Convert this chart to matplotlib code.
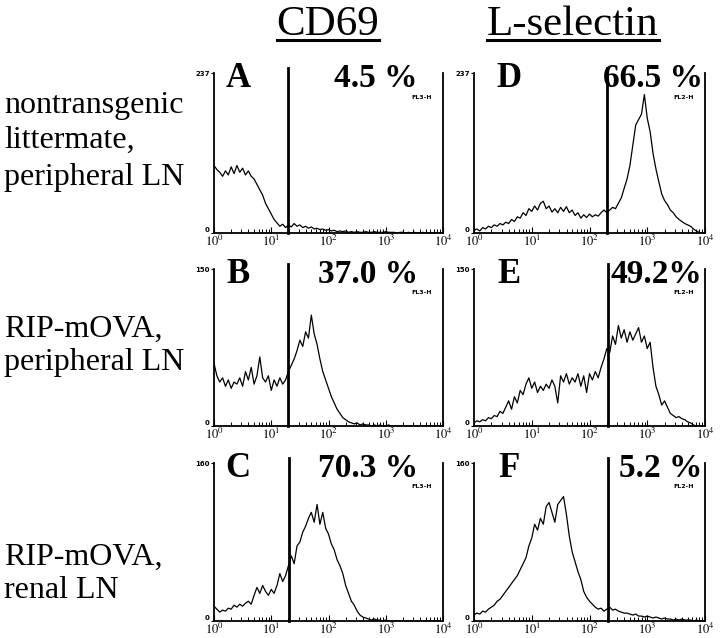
import numpy as np
import matplotlib
matplotlib.use('Agg')
import matplotlib.pyplot as plt
from matplotlib.lines import Line2D

plt.rcParams['font.family'] = ['Liberation Serif', 'DejaVu Serif']
plt.rcParams['mathtext.fontset'] = 'stix'

# fluorescence channels, 20 per decade from 10^0 to 10^4
channels = np.logspace(0, 4, 81)

counts_A = [100, 94, 90, 84, 92, 86, 98, 88, 100, 90,
            96, 86, 92, 84, 80, 72, 64, 56, 44, 36,
            28, 20, 15, 10, 13, 8, 12, 9, 14, 10,
            12, 8, 10, 7, 9, 6, 7, 5, 6, 4,
            5, 3, 4, 2, 3, 2, 3, 1, 2, 1,
            2, 1, 1, 2, 1, 1, 2, 1, 1, 1,
            2, 1, 1, 1, 0, 1, 1, 0, 1, 0,
            1, 0, 0, 1, 0, 0, 0, 0, 0, 0,
            0]
counts_B = [60, 48, 42, 46, 38, 44, 36, 42, 40, 46,
            38, 52, 44, 56, 40, 48, 66, 46, 42, 48,
            34, 44, 38, 46, 40, 44, 52, 58, 64, 72,
            82, 76, 90, 84, 106, 88, 78, 64, 52, 44,
            36, 28, 22, 16, 12, 8, 6, 4, 3, 2,
            3, 1, 2, 1, 1, 0, 1, 0, 1, 0,
            0, 1, 0, 0, 0, 0, 0, 0, 0, 0,
            0, 0, 0, 0, 0, 0, 0, 0, 0, 0,
            0]
counts_C = [15, 12, 9, 11, 10, 13, 12, 16, 14, 17,
            15, 18, 20, 17, 26, 34, 28, 36, 30, 26,
            32, 28, 36, 48, 40, 46, 56, 66, 58, 76,
            80, 90, 96, 104, 110, 100, 118, 98, 110, 94,
            88, 78, 72, 62, 56, 48, 36, 28, 20, 16,
            10, 6, 4, 3, 2, 1, 2, 1, 1, 0,
            1, 0, 0, 0, 0, 0, 0, 0, 0, 0,
            0, 0, 0, 0, 0, 0, 0, 0, 0, 0,
            0]
counts_D = [4, 6, 3, 8, 6, 10, 8, 12, 10, 14,
            12, 16, 14, 20, 17, 24, 22, 30, 26, 36,
            32, 40, 34, 44, 47, 36, 40, 31, 36, 30,
            38, 32, 39, 30, 34, 26, 30, 22, 27, 23,
            28, 24, 27, 25, 30, 34, 30, 34, 38, 36,
            44, 52, 66, 80, 100, 130, 160, 168, 176, 205,
            170, 150, 118, 95, 76, 58, 48, 42, 34, 30,
            24, 20, 17, 14, 12, 10, 6, 3, 1, 0,
            0]
counts_E = [3, 5, 4, 6, 5, 8, 7, 10, 9, 14,
            12, 18, 24, 16, 28, 22, 34, 30, 40, 46,
            36, 42, 32, 38, 34, 40, 36, 44, 38, 22,
            48, 42, 50, 40, 46, 42, 50, 38, 48, 32,
            50, 44, 52, 46, 56, 64, 74, 70, 86, 78,
            96, 84, 92, 80, 90, 82, 88, 94, 80, 86,
            74, 80, 56, 38, 30, 20, 24, 18, 12, 10,
            8, 9, 7, 6, 4, 3, 1, 0, 0, 0,
            0]
counts_F = [6, 8, 7, 10, 9, 12, 14, 16, 20, 22,
            26, 30, 34, 38, 42, 46, 52, 58, 64, 76,
            84, 98, 92, 104, 98, 116, 120, 110, 100, 118,
            122, 126, 108, 86, 70, 60, 50, 42, 30, 24,
            20, 17, 14, 12, 13, 10, 12, 14, 11, 12,
            10, 9, 8, 8, 7, 6, 7, 5, 5, 4,
            5, 4, 3, 4, 3, 2, 3, 2, 2, 1,
            2, 1, 2, 1, 1, 1, 0, 1, 0, 0,
            0]

panel_letters = ['A', 'B', 'C', 'D', 'E', 'F']
percents = ['4.5 %', '37.0 %', '70.3 %', '66.5 %', '49.2%', '5.2 %']
y_max = [237, 150, 160, 237, 150, 160]
gates = [19.6, 19.6, 20.5, 200, 205, 210]
detectors = ['FL3-H', 'FL3-H', 'FL3-H', 'FL2-H', 'FL2-H', 'FL2-H']
all_counts = [counts_A, counts_B, counts_C, counts_D, counts_E, counts_F]

col_titles = ['CD69', 'L-selectin']
row_labels = [['nontransgenic', 'littermate,', 'peripheral LN'],
              ['RIP-mOVA,', 'peripheral LN'],
              ['RIP-mOVA,', 'renal LN']]

W, H = 720, 638
fig = plt.figure(figsize=(7.2, 6.38), dpi=100)

col_left = [214, 474]
col_width = [229, 231]
row_top = [73, 269, 463]
row_bot = [233, 426, 621]
letter_x = [0.105, 0.15]
pct_x = [0.89, 0.99]

for i in range(6):
    col = i // 3
    row = i % 3
    ax = fig.add_axes([col_left[col] / W, 1 - row_bot[row] / H,
                       col_width[col] / W, (row_bot[row] - row_top[row]) / H])
    ax.plot(channels, all_counts[i], color='black', lw=0.9)
    ax.set_xscale('log')
    ax.set_xlim(1, 1e4)
    ax.set_ylim(0, y_max[i])
    ax.axvline(gates[i], ymin=0, ymax=1.03, color='black', lw=2, clip_on=False)
    for s in ['left', 'bottom', 'right']:
        ax.spines[s].set_linewidth(1.3)
    ax.spines['top'].set_visible(False)
    ax.set_yticks([0, y_max[i]])
    ax.set_yticklabels(['0', str(y_max[i])], fontsize=5, fontweight='bold',
                       family='DejaVu Sans')
    ax.get_yticklabels()[0].set_va('bottom')
    ax.tick_params(axis='y', length=2, width=0.8, pad=1)
    ax.set_xticks([1, 10, 100, 1000, 10000])
    ax.set_xticklabels(['$10^{0}$', '$10^{1}$', '$10^{2}$', '$10^{3}$', '$10^{4}$'],
                       fontsize=9)
    ax.tick_params(axis='x', which='major', direction='in', length=4, width=0.8, pad=1)
    ax.tick_params(axis='x', which='minor', direction='in', length=3, width=0.7)
    ax.text(letter_x[col], 0.965, panel_letters[i], transform=ax.transAxes,
            fontsize=25, fontweight='bold', ha='center', va='center')
    ax.text(pct_x[col], 0.965, percents[i], transform=ax.transAxes, fontsize=24,
            fontweight='bold', ha='right', va='center')
    ax.text(0.95, 0.85, detectors[i], transform=ax.transAxes, fontsize=4.5,
            fontweight='bold', ha='right', va='center', family='DejaVu Sans')

# column titles, underlined
title_x = [328, 573]
for t, x in zip(col_titles, title_x):
    txt = fig.text(x / W, 1 - 35 / H, t, fontsize=31, ha='center', va='baseline')
    fig.canvas.draw()
    bb = txt.get_window_extent()
    y_line = 1 - 40 / H
    fig.add_artist(Line2D([bb.x0 / W, bb.x1 / W], [y_line, y_line],
                          color='black', lw=2.2))

# row labels
baselines = [[113, 148, 185], [337, 370], [565, 598]]
for lines, ys in zip(row_labels, baselines):
    for line, y in zip(lines, ys):
        fig.text(4 / W, 1 - y / H, line, fontsize=23, ha='left', va='baseline')

fig.savefig('out.png', dpi=100)
